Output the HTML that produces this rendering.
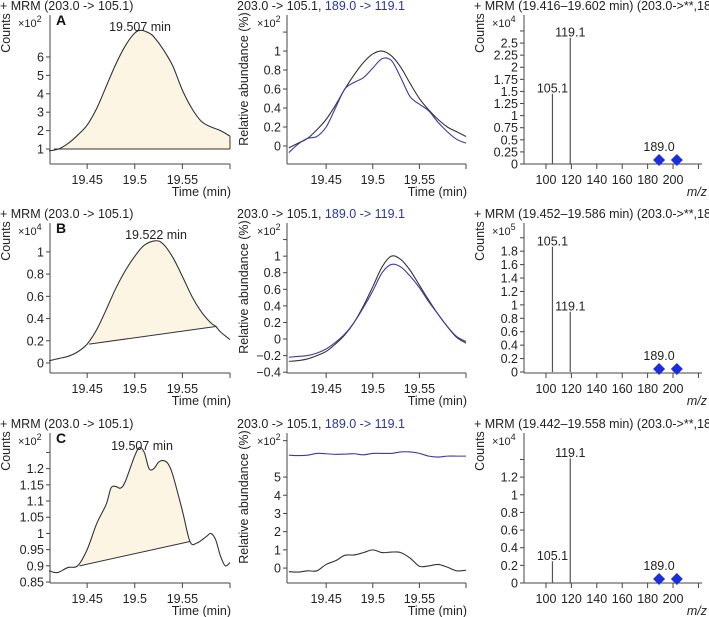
<!DOCTYPE html>
<html><head><meta charset="utf-8">
<style>
html,body{margin:0;padding:0;background:#fff;}
svg{display:block;font-family:"Liberation Sans",Arial,sans-serif;}
</style></head>
<body>
<svg id="fig" width="709" height="617" viewBox="0 0 709 617" xmlns="http://www.w3.org/2000/svg"></svg>
<script>
// ---------- Data ----------
const timeA = [19.41,19.42,19.43,19.44,19.45,19.46,19.47,19.48,19.49,19.50,19.507,19.515,19.52,19.53,19.54,19.55,19.56,19.57,19.58,19.59,19.60];
const countsA = [0.9,1.0,1.3,1.75,2.3,3.2,4.4,5.6,6.6,7.3,7.45,7.3,7.1,6.4,5.5,4.2,3.2,2.5,2.2,2.0,1.7];
const baseA = [[19.415,1.0],[19.60,1.0]];

const timeB = [19.41,19.42,19.43,19.44,19.45,19.46,19.47,19.48,19.49,19.50,19.51,19.522,19.53,19.54,19.55,19.56,19.57,19.58,19.585,19.59,19.60];
const countsB = [0.02,0.04,0.06,0.1,0.17,0.3,0.48,0.67,0.83,0.96,1.06,1.1,1.07,0.95,0.78,0.6,0.46,0.36,0.33,0.28,0.21];
const baseB = [[19.452,0.17],[19.586,0.33]];

const timeC = [19.41,19.415,19.42,19.43,19.44,19.45,19.46,19.47,19.475,19.48,19.485,19.49,19.50,19.505,19.51,19.515,19.52,19.525,19.53,19.535,19.54,19.55,19.558,19.565,19.575,19.58,19.585,19.59,19.595,19.60];
const countsC = [0.885,0.88,0.88,0.895,0.9,0.95,1.03,1.09,1.14,1.145,1.14,1.16,1.24,1.265,1.25,1.2,1.2,1.22,1.225,1.215,1.18,1.07,0.975,0.97,0.99,1.0,0.98,0.93,0.9,0.91];
const baseC = [[19.442,0.9],[19.558,0.975]];

const relTime = [19.41,19.42,19.43,19.44,19.45,19.46,19.47,19.48,19.49,19.50,19.51,19.52,19.53,19.54,19.55,19.56,19.57,19.58,19.59,19.60];
const relA_black = [-0.02,0.03,0.08,0.17,0.28,0.43,0.6,0.75,0.88,0.97,1.0,0.95,0.83,0.66,0.5,0.38,0.28,0.2,0.15,0.1];
const relA_blue  = [-0.07,0.02,0.08,0.1,0.2,0.4,0.6,0.67,0.72,0.82,0.92,0.9,0.72,0.52,0.44,0.37,0.25,0.15,0.07,0.03];
const relB_black = [-0.27,-0.26,-0.24,-0.2,-0.15,-0.06,0.05,0.2,0.4,0.63,0.87,1.0,0.96,0.83,0.65,0.47,0.3,0.15,0.02,-0.05];
const relB_blue  = [-0.22,-0.21,-0.2,-0.17,-0.12,-0.04,0.06,0.2,0.38,0.58,0.8,0.9,0.87,0.76,0.62,0.45,0.3,0.15,0.03,-0.03];
const relC_black = [-0.2,-0.22,-0.15,-0.15,0.2,0.4,0.7,0.72,0.85,1.0,0.85,0.88,0.85,0.55,0.1,0.12,0.2,0.05,-0.15,-0.12];
const relC_blue  = [6.2,6.18,6.2,6.3,6.28,6.25,6.26,6.28,6.22,6.3,6.3,6.3,6.38,6.38,6.3,6.15,6.1,6.15,6.15,6.15];

const specMz = [105.1,119.1];
const specA = [1.57,2.73];
const specB = [1.95,0.98];
const specC = [0.31,1.48];
const precMz = [189.0,203.0];

const timeTicks = [19.45,19.5,19.55,19.6];
const timeTickLabels = ["19.45","19.5","19.55",""];
const mzTicks = [100,120,140,160,180,200,220];
const mzTickLabels = ["100","120","140","160","180","200",""];

const ticksA1 = [1,2,3,4,5,6], labA1 = ["1","2","3","4","5","6"];
const ticksA2 = [0,0.2,0.4,0.6,0.8,1,1.2], labA2 = ["0","0.2","0.4","0.6","0.8","1",""];
const ticksA3 = [0,0.25,0.5,0.75,1,1.25,1.5,1.75,2,2.25,2.5,2.75], labA3 = ["0","0.25","0.5","0.75","1","1.25","1.5","1.75","2","2.25","2.5",""];
const ticksB1 = [0,0.2,0.4,0.6,0.8,1], labB1 = ["0","0.2","0.4","0.6","0.8","1"];
const ticksB2 = [-0.4,-0.2,0,0.2,0.4,0.6,0.8,1,1.2], labB2 = ["\u22120.4","\u22120.2","0","0.2","0.4","0.6","0.8","1",""];
const ticksB3 = [0,0.2,0.4,0.6,0.8,1,1.2,1.4,1.6,1.8,2.0], labB3 = ["0","0.2","0.4","0.6","0.8","1","1.2","1.4","1.6","1.8",""];
const ticksC1 = [0.85,0.9,0.95,1,1.05,1.1,1.15,1.2,1.25], labC1 = ["0.85","0.9","0.95","1","1.05","1.1","1.15","1.2",""];
const ticksC2 = [0,1,2,3,4,5,7], labC2 = ["0","1","2","3","4","5",""];
const ticksC3 = [0,0.2,0.4,0.6,0.8,1,1.2,1.4], labC3 = ["0","0.2","0.4","0.6","0.8","1","1.2",""];

// ---------- Drawing ----------
const NS = "http://www.w3.org/2000/svg";
const svg = document.getElementById('fig');
function mk(tag, attrs, parent){
  const e = document.createElementNS(NS, tag);
  for (const k in attrs) e.setAttribute(k, attrs[k]);
  (parent||svg).appendChild(e);
  return e;
}
function txt(str, x, y, opts, parent){
  const t = mk('text', Object.assign({x:x, y:y, 'font-size':12, fill:'#222'}, opts||{}), parent);
  t.textContent = str;
  return t;
}
function smoothPath(pts){
  let d = 'M' + pts[0][0].toFixed(2) + ',' + pts[0][1].toFixed(2);
  for (let i=0;i<pts.length-1;i++){
    const p0 = pts[Math.max(0,i-1)], p1 = pts[i], p2 = pts[i+1], p3 = pts[Math.min(pts.length-1,i+2)];
    const c1x = p1[0]+(p2[0]-p0[0])/6, c1y = p1[1]+(p2[1]-p0[1])/6;
    const c2x = p2[0]-(p3[0]-p1[0])/6, c2y = p2[1]-(p3[1]-p1[1])/6;
    d += ' C'+c1x.toFixed(2)+','+c1y.toFixed(2)+' '+c2x.toFixed(2)+','+c2y.toFixed(2)+' '+p2[0].toFixed(2)+','+p2[1].toFixed(2);
  }
  return d;
}
function makeAxes(g, P){
  const sx = v => P.x0 + (v - P.xmin)/(P.xmax - P.xmin)*(P.x1 - P.x0);
  const sy = v => P.yb - (v - P.ymin)/(P.ymax - P.ymin)*(P.yb - P.yt);
  const yAx = mk('line',{x1:P.x0,y1:P.yt,x2:P.x0,y2:P.yb,stroke:'#444','stroke-width':1},g);
  
  
  const xAx = mk('line',{x1:P.x0,y1:P.yb,x2:P.x1,y2:P.yb,stroke:'#444','stroke-width':1},g);
  
  
  P.yticks.forEach((v,i)=>{
    const y = sy(v);
    const tk = mk('line',{x1:P.x0-4,y1:y,x2:P.x0,y2:y,stroke:'#444'},g);
    
    
    if (P.ylabels[i]){
      const t = txt(P.ylabels[i], P.x0-6, y+4.5, {'text-anchor':'end','font-size':12.5}, g);
      
      
    }
  });
  P.xticks.forEach((v,i)=>{
    const x = sx(v);
    const tk = mk('line',{x1:x,y1:P.yb,x2:x,y2:P.yb+5,stroke:'#444'},g);
    
    
    if (P.xlabels[i]){
      const t = txt(P.xlabels[i], x, P.yb+20, {'text-anchor':'middle','font-size':12.5}, g);
      
      
    }
  });
  return {sx, sy};
}
function header(g, P, title, ylab, mult, isRel){
  if (isRel){
    const t = mk('text',{x:P.x0-50,y:P.yt-5,'font-size':12.5,fill:'#222'},g);
    
    
    const s1 = mk('tspan',{},t); s1.textContent = '203.0 -> 105.1, ';
    const s2 = mk('tspan',{fill:'#2a35a0'},t); s2.textContent = '189.0 -> 119.1';
  } else {
    const t = txt(title, P.x0-50, P.yt-5, {'font-size':12.5}, g);
    
    
  }
  const cx = isRel ? P.x0-39 : P.x0-40;
  const cy = isRel ? P.yt+64 : P.yt+18;
  const yl = txt(ylab, cx, cy, {'text-anchor':'middle','font-size':12.5,transform:'rotate(-90 '+cx+' '+cy+')'}, g);
  
  
  const m = mk('text',{x:isRel?P.x0-30:P.x0-32,y:P.yt+12,'font-size':11,fill:'#222'},g);
  
  
  const a = mk('tspan',{},m); a.textContent='\u00d710';
  const b = mk('tspan',{dy:-5,'font-size':9},m); b.textContent=mult;
}
function xTitle(g, P, str, italic){
  const t = txt(str, P.x1+ (italic?5:1), P.yb+32, {'text-anchor':'end','font-size':12.5,'font-style':italic?'italic':'normal'}, g);
  
  
}

function chromPanel(name, P, times, vals, base, letter, peakLabel, mult){
  const g = mk('g',{});
  
  
  header(g, P, '+ MRM (203.0 -> 105.1)', 'Counts', mult, false);
  const {sx, sy} = makeAxes(g, P);
  const pts = times.map((t,i)=>[sx(t), sy(vals[i])]);
  // fill between curve and baseline
  const t0 = base[0][0], t1 = base[1][0];
  const inside = [];
  const interp = t => { for (let i=0;i<times.length-1;i++){ if (t>=times[i] && t<=times[i+1]){ const f=(t-times[i])/(times[i+1]-times[i]); return vals[i]+f*(vals[i+1]-vals[i]); } } return vals[vals.length-1]; };
  inside.push([sx(t0), sy(interp(t0))]);
  times.forEach((t,i)=>{ if (t>t0 && t<t1) inside.push(pts[i]); });
  inside.push([sx(t1), sy(interp(t1))]);
  let d = smoothPath(inside) + ' L'+sx(t1)+','+sy(base[1][1])+' L'+sx(t0)+','+sy(base[0][1])+' Z';
  const fill = mk('path',{d:d, fill:'#fcf5e4', stroke:'none'},g);
  
  
  const bl = mk('line',{x1:sx(t0),y1:sy(base[0][1]),x2:sx(t1),y2:sy(base[1][1]),stroke:'#333','stroke-width':1},g);
  
  
  if (t1 >= times[times.length-1]-1e-9){
    const v = mk('line',{x1:sx(t1),y1:sy(interp(t1)),x2:sx(t1),y2:sy(base[1][1]),stroke:'#333'},g);
    
    
  }
  const c = mk('path',{d:smoothPath(pts), fill:'none', stroke:'#333','stroke-width':1.1},g);
  
  
  const L = txt(letter, P.x0+6, P.yt+10, {'font-size':14,'font-weight':'bold',fill:'#111'}, g);
  
  
  const pk = txt(peakLabel[0], peakLabel[1], P.yt+peakLabel[2], {'text-anchor':'middle','font-size':12.5}, g);
  
  
  xTitle(g, P, 'Time (min)', false);
}

function relPanel(name, P, times, black, blue, mult){
  const g = mk('g',{});
  
  
  header(g, P, '', 'Relative abundance (%)', mult, true);
  const {sx, sy} = makeAxes(g, P);
  const pb = mk('path',{d:smoothPath(times.map((t,i)=>[sx(t),sy(black[i])])),fill:'none',stroke:'#333','stroke-width':1.1},g);
  
  
  const pu = mk('path',{d:smoothPath(times.map((t,i)=>[sx(t),sy(blue[i])])),fill:'none',stroke:'#3a3aa8','stroke-width':1.1},g);
  
  
  xTitle(g, P, 'Time (min)', false);
}

function specPanel(name, P, title, mzs, vals, prec, mult){
  const g = mk('g',{});
  
  
  header(g, P, title, 'Counts', mult, false);
  const {sx, sy} = makeAxes(g, P);
  mzs.forEach((m,i)=>{
    const b = mk('line',{x1:sx(m),y1:sy(0),x2:sx(m),y2:sy(vals[i]),stroke:'#555','stroke-width':1.2},g);
    
    
    const t = txt(m.toFixed(1), sx(m), sy(vals[i])+4.5, {'text-anchor':'middle','font-size':12.5,stroke:'#fff','stroke-width':3,'paint-order':'stroke'}, g);
    
    
  });
  const dy = P.yb - 4;
  prec.forEach((m,i)=>{
    const x = sx(m);
    const dmd = mk('path',{d:'M'+x+','+(dy-6)+' L'+(x+6)+','+dy+' L'+x+','+(dy+6)+' L'+(x-6)+','+dy+' Z',fill:'#1a2ee0'},g);
    
    
  });
  const pl = txt(prec[0].toFixed(1), sx(prec[0]), dy-9, {'text-anchor':'middle','font-size':12.5}, g);
  
  
  xTitle(g, P, 'm/z', true);
}

const rows = [{yt:15,yb:164},{yt:223,yb:373},{yt:433,yb:583}];
function L(r, ymin, ymax, yt, yl){ return {x0:50,x1:230,xmin:19.411,xmax:19.6,yt:rows[r].yt,yb:rows[r].yb,ymin,ymax,yticks:yt,ylabels:yl,xticks:timeTicks,xlabels:timeTickLabels}; }
function M(r, ymin, ymax, yt, yl){ return {x0:287,x1:466,xmin:19.408,xmax:19.6,yt:rows[r].yt,yb:rows[r].yb,ymin,ymax,yticks:yt,ylabels:yl,xticks:timeTicks,xlabels:timeTickLabels}; }
function R(r, ymin, ymax, yt, yl){ return {x0:524,x1:702,xmin:82.7,xmax:222.8,yt:rows[r].yt,yb:rows[r].yb,ymin,ymax,yticks:yt,ylabels:yl,xticks:mzTicks,xlabels:mzTickLabels}; }

chromPanel('chromatogram-a', L(0,0.185,8.28,ticksA1,labA1), timeA, countsA, baseA, 'A', ['19.507 min',140,16], '2');
relPanel('overlay-a', M(0,-0.19,1.38,ticksA2,labA2), relTime, relA_black, relA_blue, '2');
specPanel('spectrum-a', R(0,0,3.08,ticksA3,labA3), '+ MRM (19.416\u201319.602 min) (203.0->**,189.0->**)', specMz, specA, precMz, '4');

chromPanel('chromatogram-b', L(1,-0.09,1.26,ticksB1,labB1), timeB, countsB, baseB, 'B', ['19.522 min',156,16], '4');
relPanel('overlay-b', M(1,-0.41,1.40,ticksB2,labB2), relTime, relB_black, relB_blue, '2');
specPanel('spectrum-b', R(1,-0.015,2.22,ticksB3,labB3), '+ MRM (19.452\u201319.586 min) (203.0->**,189.0->**)', specMz, specB, precMz, '5');

chromPanel('chromatogram-c', L(2,0.847,1.31,ticksC1,labC1), timeC, countsC, baseC, 'C', ['19.507 min',142,17], '2');
relPanel('overlay-c', M(2,-0.82,7.42,ticksC2,labC2), relTime, relC_black, relC_blue, '2');
specPanel('spectrum-c', R(2,0,1.70,ticksC3,labC3), '+ MRM (19.442\u201319.558 min) (203.0->**,189.0->**)', specMz, specC, precMz, '4');
</script>
</body></html>
